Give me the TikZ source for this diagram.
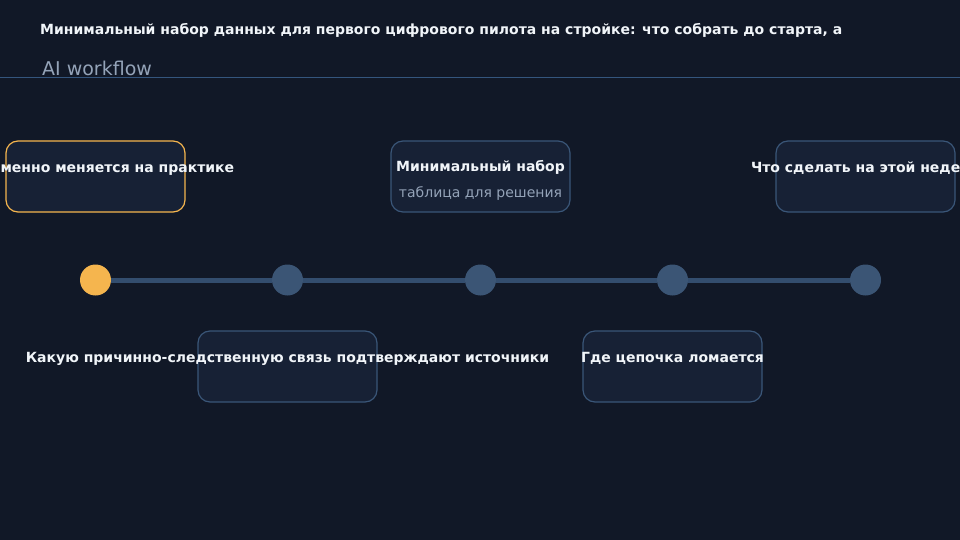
\documentclass[tikz,border=0pt]{standalone}
\usepackage{fontspec}
\setmainfont{DejaVu Sans}
\usetikzlibrary{positioning}
\definecolor{bgdark}{HTML}{111827}
\definecolor{boxfill}{HTML}{172135}
\definecolor{boxline}{HTML}{3A5678}
\definecolor{rulecol}{HTML}{34557D}
\definecolor{railcol}{HTML}{334D6E}
\definecolor{dotcol}{HTML}{3B5575}
\definecolor{accent}{HTML}{F5B54E}
\definecolor{subgray}{HTML}{94A3B8}
\definecolor{textwhite}{HTML}{F1F5F9}
\begin{document}
\begin{tikzpicture}[
        x=1pt, y=-1pt,
        card/.style={draw=boxline, fill=boxfill, line width=1.2pt, rounded corners=12pt,
            minimum width=179pt, minimum height=71pt, inner sep=0pt},
        hot/.style={draw=accent},
        cardtext/.style={text=textwhite, font=\fontsize{14}{16}\selectfont\bfseries, inner sep=0pt},
        cardsub/.style={text=subgray, font=\fontsize{14}{16}\selectfont, inner sep=0pt},
        dot/.style={circle, fill=dotcol, minimum size=31pt, inner sep=0pt},
        rail/.style={draw=railcol, line width=5pt},
    ]
    \useasboundingbox[fill=bgdark] (0,0) rectangle (960,540);
    % header
    \node[anchor=base west, text=textwhite, font=\fontsize{14}{16}\selectfont\bfseries, inner sep=0pt] (title) at (40,35)
        {Минимальный набор данных для первого цифрового пилота на стройке: что собрать до старта, а};
    \node[anchor=base west, text=subgray, font=\fontsize{19}{21}\selectfont, inner sep=0pt] (sub) at (42,76) {AI workflow};
    \coordinate (hl) at (0,78);
    \coordinate (hr) at (960,78);
    \draw[draw=rulecol, line width=1pt] (hl) -- (hr);

    % timeline
    \node[dot, fill=accent] (d0) at (95.5,280) {};
    \node[dot] (d1) at (287.5,280) {};
    \node[dot] (d2) at (480.5,280) {};
    \node[dot] (d3) at (672.5,280) {};
    \node[dot] (d4) at (865.5,280) {};
    \foreach \a/\b in {d0/d1,d1/d2,d2/d3,d3/d4}
        \draw[rail] (\a) -- (\b);

    % cards above
    \node[card, hot] (c0) at (95.5,176.5) {};
    \node[cardtext] (t0) at (95.5,168.5) {Что именно меняется на практике};
    \node[card] (c2) at (480.5,176.5) {};
    \node[cardtext] (t2) at (480.5,167.5) {Минимальный набор};
    \node[cardsub] (s2) at (480.5,193.5) {таблица для решения};
    \node[card] (c4) at (865.5,176.5) {};
    \node[cardtext] (t4) at (865.5,168.5) {Что сделать на этой неделе};

    % cards below
    \node[card] (c1) at (287.5,366.5) {};
    \node[cardtext] (t1) at (287.5,358.5) {Какую причинно-следственную связь подтверждают источники};
    \node[card] (c3) at (672.5,366.5) {};
    \node[cardtext] (t3) at (672.5,358.5) {Где цепочка ломается};
\end{tikzpicture}
\end{document}
